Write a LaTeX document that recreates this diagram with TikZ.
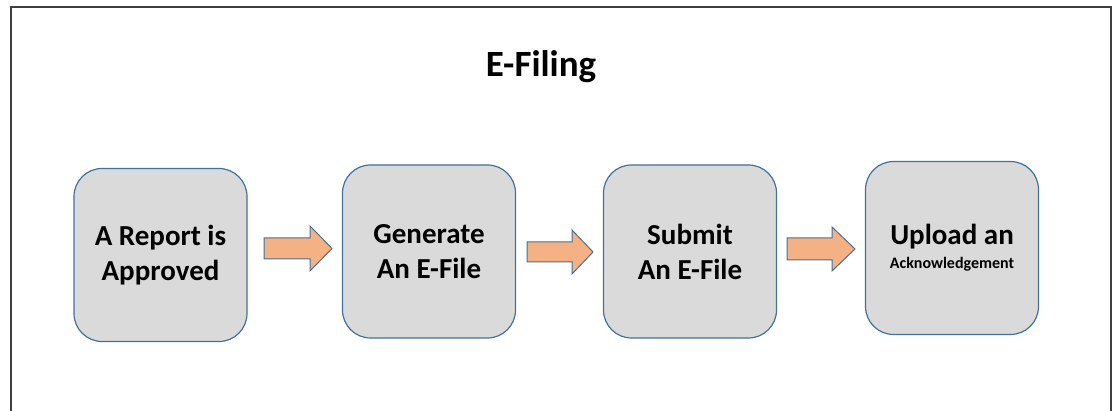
\documentclass[tikz,border=0pt]{standalone}
\usepackage{fontspec}
\setmainfont{Carlito}
\definecolor{boxfill}{HTML}{DADADA}
\definecolor{boxline}{HTML}{41719C}
\definecolor{arrowfill}{HTML}{F4B183}
\definecolor{framecol}{HTML}{3F3F3F}
\tikzset{
  stepbox/.style={draw=boxline, line width=1.2pt, fill=boxfill, rounded corners=28pt,
    minimum width=173pt, minimum height=173pt, align=center, inner sep=0pt,
    font=\bfseries\fontsize{29}{35}\selectfont},
  blockarrow/.style={draw=boxline, line width=1pt, fill=arrowfill, line join=miter},
  frameline/.style={draw=framecol, line width=2.5pt},
}
\begin{document}
\begin{tikzpicture}[x=1pt,y=1pt]
\useasboundingbox (0,0) rectangle (1113,411);
\draw[frameline] (11,-2) -- (11,404) -- (1111,404) -- (1111,-2);
\node[anchor=base, font=\bfseries\fontsize{37}{44}\selectfont] (title) at (541,334) {E-Filing};
\node[stepbox] (b1) at (160.5,156) {A Report is\\Approved};
\node[stepbox] (b2) at (429,159.5) {Generate\\An E-File};
\node[stepbox] (b3) at (690,159.5) {Submit\\An E-File};
\node[stepbox] (b4) at (952,163) {Upload an\\[-11pt]{\fontsize{16}{18}\selectfont Acknowledgement}};
% block arrows
\draw[blockarrow] (264,152) -- (310,152) -- (310,140) -- (332,162.5) -- (310,185) -- (310,173) -- (264,173) -- cycle;
\draw[blockarrow] (527,149) -- (572,149) -- (572,137) -- (593,159) -- (572,181) -- (572,169) -- (527,169) -- cycle;
\draw[blockarrow] (787,151) -- (832,151) -- (832,140) -- (855,162) -- (832,184) -- (832,173) -- (787,173) -- cycle;
\end{tikzpicture}
\end{document}
